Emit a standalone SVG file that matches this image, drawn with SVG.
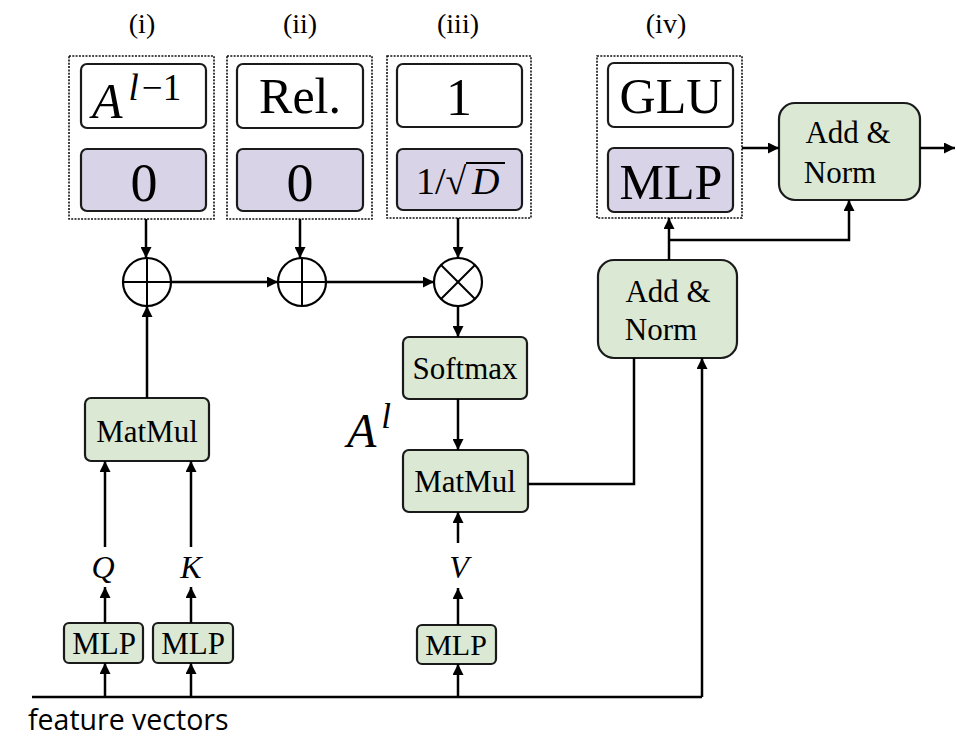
<svg xmlns="http://www.w3.org/2000/svg" width="957" height="752" viewBox="0 0 957 752">
<defs>
<marker id="ah" viewBox="0 0 10 10" refX="10" refY="5" markerWidth="4.6" markerHeight="4.4" orient="auto" markerUnits="strokeWidth">
<path d="M0,0 L10,5 L0,10 z" fill="#000"/>
</marker>
<style>
.wb{fill:#fff;stroke:#1a1a1a;stroke-width:2.2}
.pb{fill:#D9D3E8;stroke:#1a1a1a;stroke-width:2.2}
.gb{fill:#DAE8D4;stroke:#1a1a1a;stroke-width:2.2}
.dot{fill:none;stroke:#111;stroke-width:1.6;stroke-dasharray:2 1.3}
.ln{fill:none;stroke:#000;stroke-width:2.5}
.ar{fill:none;stroke:#000;stroke-width:2.5;marker-end:url(#ah)}
.op{fill:#fff;stroke:#000;stroke-width:2.2}
.t{font-family:"Liberation Serif","Times New Roman",serif;fill:#000;text-anchor:middle}
.m{font-family:"Liberation Serif","Times New Roman",serif;fill:#000}
.i{font-style:italic}
.s{font-family:"Open Sans","Noto Sans",sans-serif;fill:#000}
</style>
</defs>

<g id="labels">
<text class="t" x="142" y="33" font-size="28">(i)</text>
<text class="t" x="300" y="33" font-size="28">(ii)</text>
<text class="t" x="458" y="33" font-size="28">(iii)</text>
<text class="t" x="666" y="33" font-size="28">(iv)</text>
</g>

<g id="group-i">
<rect class="dot" x="69" y="56" width="145" height="163"/>
<rect class="wb" x="81" y="64" width="125" height="64" rx="6"/>
<text class="m" x="92" y="118" font-size="50"><tspan class="i">A</tspan><tspan class="i" font-size="37" dx="6" dy="-18">l</tspan><tspan font-size="37" dx="3">−1</tspan></text>
<rect class="pb" x="81" y="149" width="125" height="62" rx="6"/>
<text class="t" x="144" y="201" font-size="54">0</text>
</g>

<g id="group-ii">
<rect class="dot" x="227" y="56" width="145" height="163"/>
<rect class="wb" x="237" y="64" width="126" height="64" rx="6"/>
<text class="t" x="300" y="113" font-size="50">Rel.</text>
<rect class="pb" x="237" y="149" width="126" height="62" rx="6"/>
<text class="t" x="300" y="201" font-size="54">0</text>
</g>

<g id="group-iii">
<rect class="dot" x="387" y="56" width="144" height="162"/>
<rect class="wb" x="397" y="64" width="125" height="63" rx="6"/>
<text class="t" x="459" y="115" font-size="52">1</text>
<rect class="pb" x="397" y="149" width="125" height="61" rx="6"/>
<text class="m" x="416" y="194" font-size="38">1/√<tspan class="i" x="472">D</tspan></text>
<line x1="466" y1="163" x2="505" y2="163" stroke="#000" stroke-width="2"/>
</g>

<g id="group-iv">
<rect class="dot" x="597" y="56" width="145" height="162"/>
<rect class="wb" x="608" y="63" width="125" height="64" rx="6"/>
<text class="t" x="671" y="113" font-size="50">GLU</text>
<rect class="pb" x="608" y="148" width="125" height="64" rx="6"/>
<text class="t" x="671" y="199" font-size="50">MLP</text>
</g>

<g id="add-norm-2">
<rect class="gb" x="779" y="103" width="141" height="97" rx="16"/>
<text class="t" x="848" y="143" font-size="31">Add &amp;</text>
<text class="t" x="840" y="183" font-size="31">Norm</text>
</g>

<g id="add-norm-1">
<rect class="gb" x="598" y="260" width="139" height="98" rx="16"/>
<text class="t" x="668" y="302" font-size="31">Add &amp;</text>
<text class="t" x="661" y="340" font-size="31">Norm</text>
</g>

<g id="op-add-1">
<circle class="op" cx="147" cy="282" r="24"/>
<line x1="123" y1="282" x2="171" y2="282" stroke="#000" stroke-width="2"/>
<line x1="147" y1="258" x2="147" y2="306" stroke="#000" stroke-width="2"/>
</g>
<g id="op-add-2">
<circle class="op" cx="302" cy="282" r="24"/>
<line x1="278" y1="282" x2="326" y2="282" stroke="#000" stroke-width="2"/>
<line x1="302" y1="258" x2="302" y2="306" stroke="#000" stroke-width="2"/>
</g>
<g id="op-mul">
<circle class="op" cx="458" cy="282" r="24"/>
<line x1="441" y1="265" x2="475" y2="299" stroke="#000" stroke-width="2"/>
<line x1="475" y1="265" x2="441" y2="299" stroke="#000" stroke-width="2"/>
</g>

<g id="softmax">
<rect class="gb" x="403" y="337" width="124" height="62" rx="6"/>
<text class="t" x="465" y="379" font-size="31">Softmax</text>
</g>

<g id="matmul-v">
<rect class="gb" x="403" y="450" width="125" height="62" rx="6"/>
<text class="t" x="465" y="492" font-size="31">MatMul</text>
</g>

<g id="a-l">
<text class="m" x="347" y="447" font-size="48"><tspan class="i">A</tspan><tspan class="i" font-size="35" dx="5" dy="-19">l</tspan></text>
</g>

<g id="matmul-qk">
<rect class="gb" x="85" y="398" width="124" height="63" rx="6"/>
<text class="t" x="147" y="442" font-size="31">MatMul</text>
</g>

<g id="mlp-q">
<rect class="gb" x="64" y="623" width="79" height="40" rx="5"/>
<text class="t" x="104" y="654" font-size="31">MLP</text>
</g>
<g id="mlp-k">
<rect class="gb" x="153" y="623" width="80" height="40" rx="5"/>
<text class="t" x="193" y="654" font-size="31">MLP</text>
</g>
<g id="mlp-v">
<rect class="gb" x="417" y="625" width="79" height="39" rx="5"/>
<text class="t" x="456" y="655" font-size="30">MLP</text>
</g>

<g id="qkv-labels">
<text class="t i" x="103" y="578" font-size="32">Q</text>
<text class="t i" x="191" y="578" font-size="32">K</text>
<text class="t i" x="459" y="578" font-size="32">V</text>
</g>

<g id="feature-label">
<text class="s" x="28" y="730" font-size="28.5">feature vectors</text>
</g>

<g id="connectors">
<line class="ar" x1="146" y1="219" x2="146" y2="258"/>
<line class="ar" x1="300" y1="219" x2="300" y2="258"/>
<line class="ar" x1="458" y1="218" x2="458" y2="258"/>
<line class="ar" x1="171" y1="282" x2="278" y2="282"/>
<line class="ar" x1="326" y1="282" x2="434" y2="282"/>
<line class="ar" x1="147" y1="398" x2="147" y2="306"/>
<line class="ar" x1="458" y1="306" x2="458" y2="337"/>
<line class="ar" x1="458" y1="399" x2="458" y2="450"/>
<line class="ar" x1="458" y1="543" x2="458" y2="512"/>
<line class="ar" x1="458" y1="625" x2="458" y2="588"/>
<line class="ar" x1="458" y1="697" x2="458" y2="664"/>
<line class="ar" x1="105" y1="547" x2="105" y2="461"/>
<line class="ar" x1="191" y1="547" x2="191" y2="461"/>
<line class="ar" x1="105" y1="623" x2="105" y2="587"/>
<line class="ar" x1="191" y1="623" x2="191" y2="587"/>
<line class="ar" x1="105" y1="697" x2="105" y2="663"/>
<line class="ar" x1="191" y1="697" x2="191" y2="663"/>
<polyline class="ln" points="32,697 702,697"/>
<polyline class="ar" points="702,697 702,358"/>
<polyline class="ln" points="528,484 634,484 634,358"/>
<line class="ar" x1="669" y1="260" x2="669" y2="218"/>
<polyline class="ar" points="669,240 849,240 849,200"/>
<line class="ar" x1="742" y1="148" x2="779" y2="148"/>
<line class="ar" x1="920" y1="148" x2="955" y2="148"/>
</g>
</svg>
